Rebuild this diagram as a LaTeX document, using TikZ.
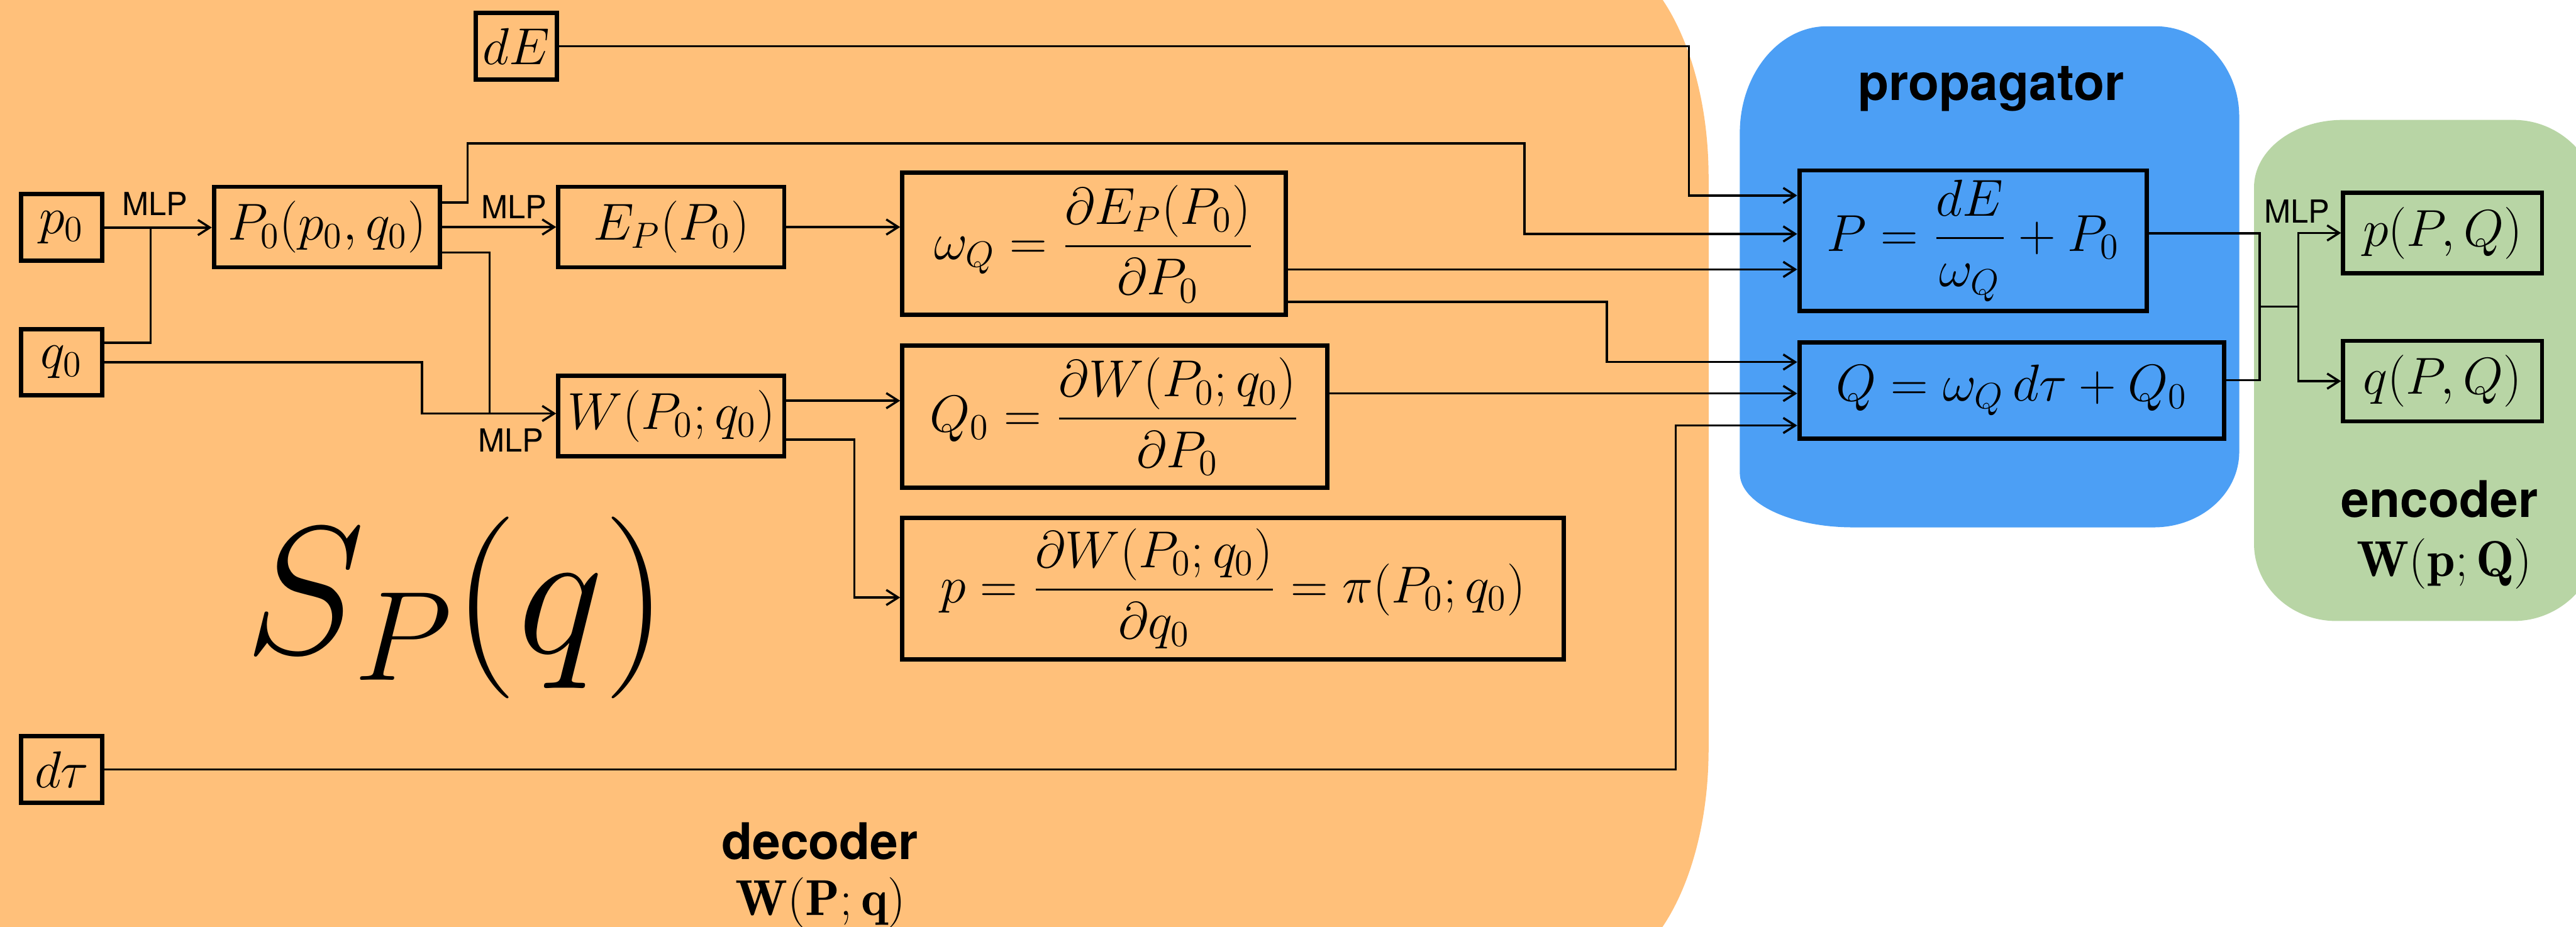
\RequirePackage{fix-cm}
\documentclass[tikz,border=0pt]{standalone}
\usepackage{amsmath}
\usepackage{fontspec}
\newfontfamily\helv{TeX Gyre Heros}
\usetikzlibrary{arrows.meta, calc, backgrounds}

\definecolor{decfill}{RGB}{255,192,122}
\definecolor{propfill}{RGB}{76,159,245}
\definecolor{encfill}{RGB}{184,213,165}

\begin{document}
\begin{tikzpicture}[
    x=0.2mm, y=-0.2mm,
    blk/.style={draw, line width=1.5pt, inner sep=0pt, font=\fontsize{18}{22}\selectfont},
    inbox/.style={blk, minimum width=9.9mm, minimum height=8.1mm},
    midbox/.style={blk, minimum width=27.5mm, minimum height=9.8mm},
    outbox/.style={blk, minimum width=24.2mm, minimum height=9.8mm},
    mlp/.style={inner sep=0pt, font=\fontsize{11}{13}\helv},
    region/.style={inner sep=0pt, anchor=base, font=\fontsize{17.5}{21}\helv\bfseries},
    wire/.style={line width=0.75pt},
    arr/.style={wire, -{Straight Barb[length=1.45mm, width=1.85mm]}},
  ]
    \useasboundingbox (0,0) rectangle (1568,564);

    % inputs
    \node[inbox] (dE)   at (314.2,28.2)  {$dE$};
    \node[inbox] (p0)   at (37.5,138.5)  {$p_0$};
    \node[inbox] (q0)   at (37.5,220.5)  {$q_0$};
    \node[inbox] (dtau) at (37.6,468.3)  {$d\tau$};

    % decoder
    \node[midbox] (P0) at (199,138.2)   {$P_0(p_0,q_0)$};
    \node[midbox] (EP) at (408.6,138.2) {$E_P(P_0)$};
    \node[midbox] (W)  at (408.6,253.2) {$W(P_0;q_0)$};
    \node[blk, minimum width=46.7mm, minimum height=17.3mm] (om) at (666,148.5)
      {$\omega_Q=\dfrac{\partial E_P(P_0)}{\partial P_0}$};
    \node[blk, minimum width=51.7mm, minimum height=17.3mm] (Q0) at (678.5,253.5)
      {$Q_0=\dfrac{\partial W(P_0;q_0)}{\partial P_0}$};
    \node[blk, minimum width=80.5mm, minimum height=17.2mm] (pbox) at (750.5,358.3)
      {$p=\dfrac{\partial W(P_0;q_0)}{\partial q_0}=\pi(P_0;q_0)$};
    \node[inner sep=0pt, anchor=base, font=\fontsize{63}{70}\selectfont] (SP) at (277.7,397.5) {$S_P(q)$};

    % propagator
    \node[blk, minimum width=42.3mm, minimum height=17.1mm] (P) at (1201,146.5)
      {$P=\dfrac{dE}{\omega_Q}+P_0$};
    \node[blk, minimum width=51.7mm, minimum height=11.7mm] (Q) at (1224.5,237.6)
      {$Q=\omega_Q\,d\tau+Q_0$};

    % encoder
    \node[outbox] (pPQ) at (1486.8,141.8) {$p(P,Q)$};
    \node[outbox] (qPQ) at (1486.8,232)   {$q(P,Q)$};

    \node[mlp] (mlp1) at (94.3,124)   {MLP};
    \node[mlp] (mlp2) at (313,126)    {MLP};
    \node[mlp] (mlp3) at (311,268)    {MLP};
    \node[mlp] (mlp4) at (1398,128.5) {MLP};

    \node[region] (decname) at (499,523)   {decoder};
    \node[region, font=\fontsize{17.5}{21}\selectfont] (decfun) at (499.5,557) {$\mathbf{W}(\mathbf{P};\mathbf{q})$};
    \node[region] (propname) at (1212,61)  {propagator};
    \node[region] (encname) at (1485,315)  {encoder};
    \node[region, font=\fontsize{17.5}{21}\selectfont] (encfun) at (1488,351) {$\mathbf{W}(\mathbf{p};\mathbf{Q})$};

    \coordinate (jp) at (91.7,138.5);
    \coordinate (t1) at (284.6,87.3);
    \coordinate (t2) at (928,142.4);
    \coordinate (t3) at (298,251.7);
    \coordinate (t4) at (256.8,251.7);
    \coordinate (t5) at (520,363.7);
    \coordinate (t6) at (1028,119);
    \coordinate (t7) at (978,220.4);
    \coordinate (t8) at (1020,259);
    \coordinate (m1) at (1375.5,186.7);
    \coordinate (m2) at (1399,186.7);

    \draw[arr] (p0.east) -- (p0.east -| P0.west);
    \draw[wire] ($(q0.east)+(0,-11.8)$) -| (jp);
    \draw[arr] (P0.east) -- (EP.west);
    \draw[arr] ($(P0.east)+(0,-15)$) -| (t1) -| (t2) -- (t2 -| P.west);
    \draw[wire] ($(P0.east)+(0,15.5)$) -| (t3);
    \draw[arr] (q0.east) -| (t4) -- (t4 -| W.west);
    \draw[arr] (EP.east) -- (EP.east -| om.west);
    \draw[arr] ($(W.east)+(0,-9.3)$) coordinate (w1) -- (w1 -| Q0.west);
    \draw[arr] ($(W.east)+(0,14.4)$) -| (t5) -- (t5 -| pbox.west);
    \draw[arr] (dE.east) -| (t6) -- (t6 -| P.west);
    \draw[arr] ($(om.east)+(0,15.5)$) coordinate (w2) -- (w2 -| P.west);
    \draw[arr] ($(om.east)+(0,35.3)$) -| (t7) -- (t7 -| Q.west);
    \draw[arr] ($(Q0.east)+(0,-14)$) coordinate (w3) -- (w3 -| Q.west);
    \draw[arr] (dtau.east) -| (t8) -- (t8 -| Q.west);
    \draw[wire] ($(P.east)+(0,-4.5)$) -| (m1);
    \draw[wire] ($(Q.east)+(0,-6.1)$) -| (m1);
    \draw[wire] (m1) -- (m2);
    \draw[arr] (m2) |- (pPQ.west);
    \draw[arr] (m2) |- (qPQ.west);

    \begin{scope}[on background layer]
      \clip (0,0) rectangle (1568,564);
      \fill[decfill] (-20,-30) -- (966,-30) .. controls (1006.9,-30) and (1040,31.8) .. (1040,108)
        -- (1040,456) .. controls (1040,532.2) and (1006.9,594) .. (966,594) -- (-20,594) -- cycle;
      \fill[propfill] (1059,81) .. controls (1059,45.1) and (1082.7,16) .. (1112,16)
        -- (1312,16) .. controls (1340.2,16) and (1363,40.6) .. (1363,71)
        -- (1363,275) .. controls (1363,300.4) and (1339.7,321) .. (1311,321)
        -- (1128,321) .. controls (1089.9,321) and (1059,306.2) .. (1059,288) -- cycle;
      \fill[encfill] (1372,114) .. controls (1372,91.4) and (1396.2,73) .. (1426,73)
        -- (1530,73) .. controls (1558.7,73) and (1582,96.6) .. (1582,125)
        -- (1582,326) .. controls (1582,354.7) and (1558.7,378) .. (1530,378)
        -- (1422,378) .. controls (1394.4,378) and (1372,356.9) .. (1372,331) -- cycle;
    \end{scope}
  \end{tikzpicture}
\end{document}
